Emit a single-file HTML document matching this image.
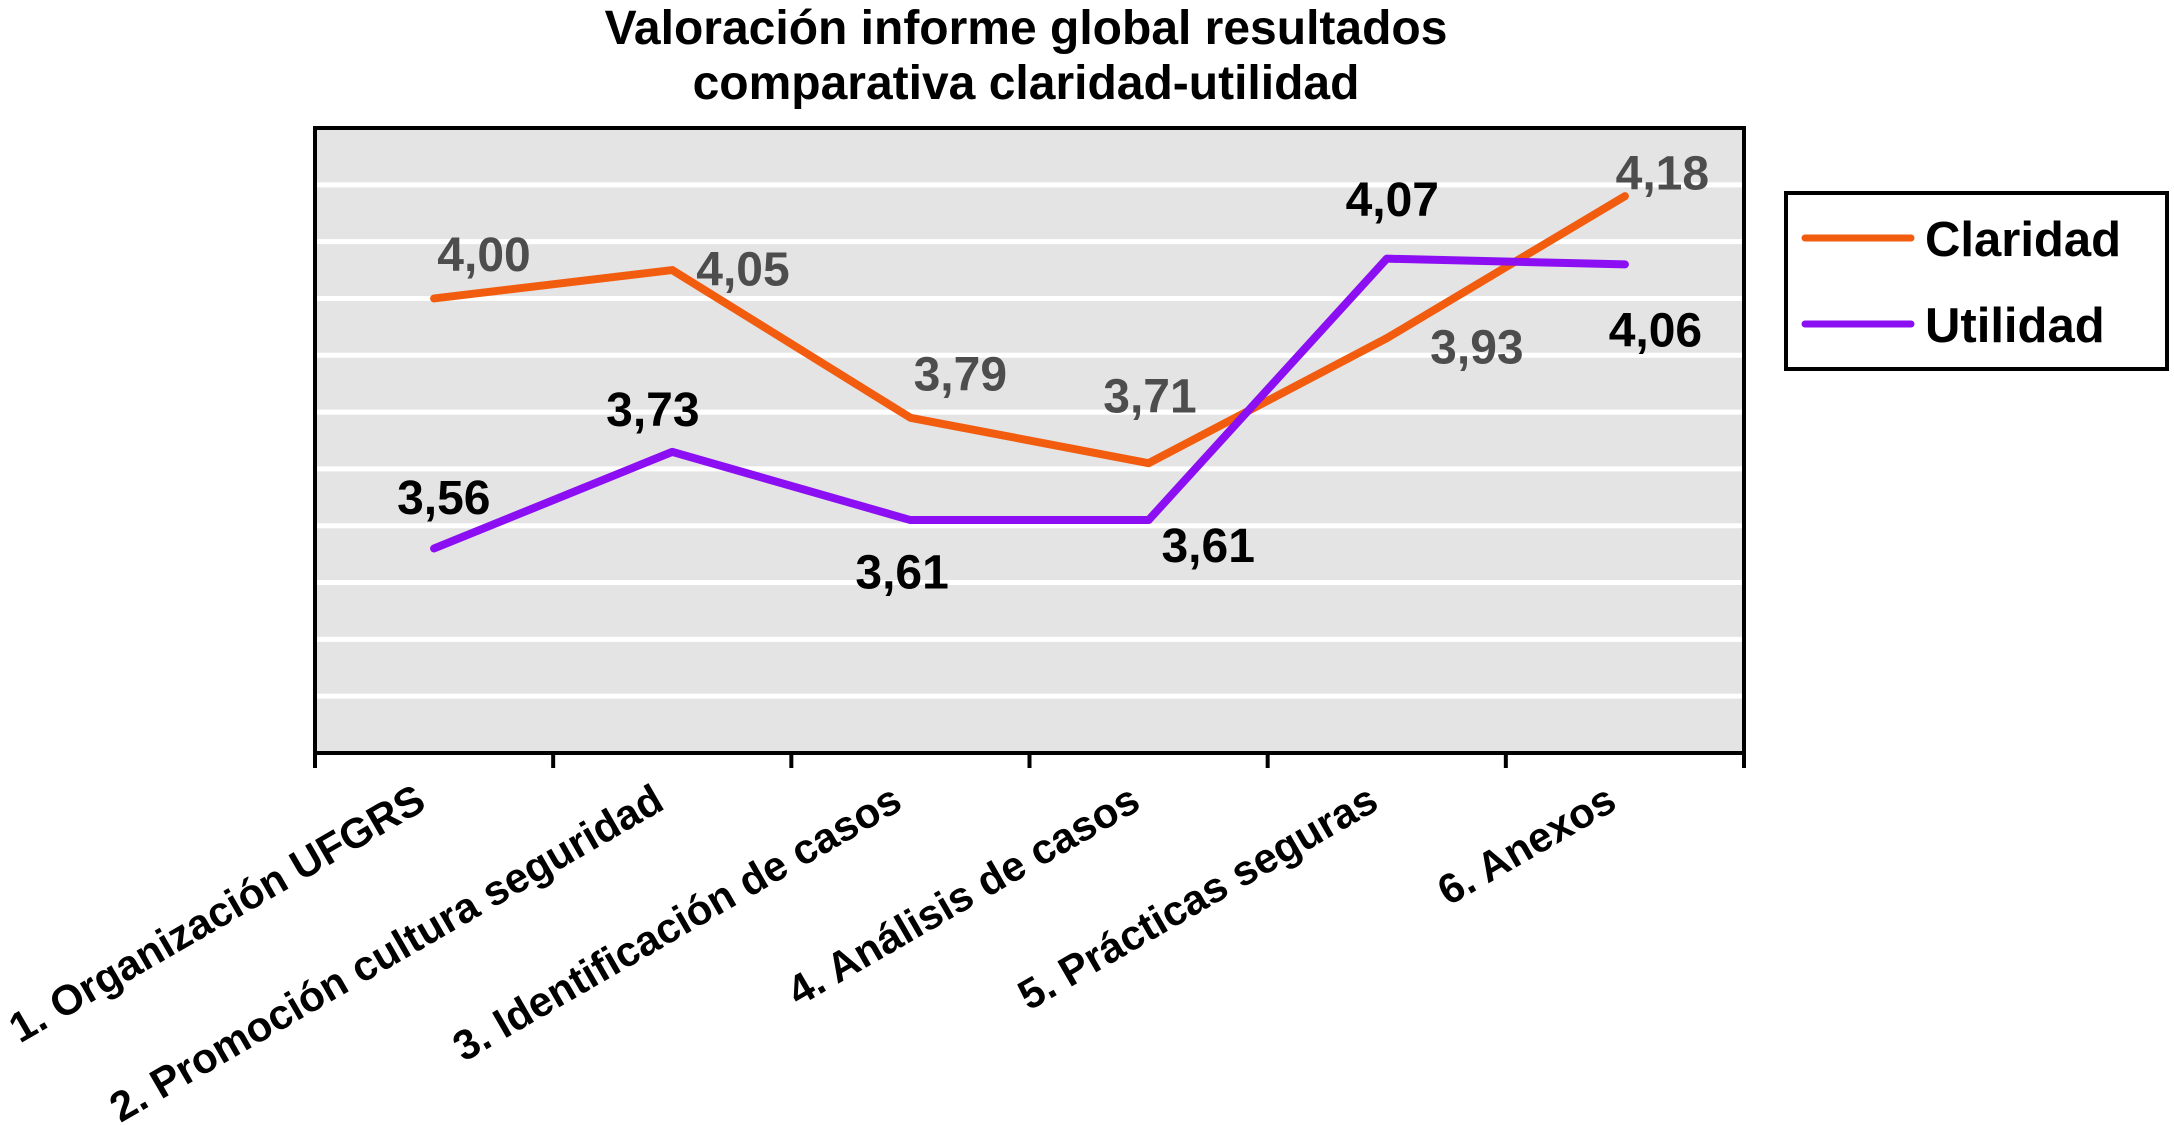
<!DOCTYPE html>
<html><head><meta charset="utf-8"><style>
html,body{margin:0;padding:0;background:#fff;width:2174px;height:1125px;overflow:hidden}
svg text{font-family:"Liberation Sans",Arial,sans-serif;font-weight:bold}
</style></head><body>
<svg id="chart" width="2174" height="1125" viewBox="0 0 2174 1125" xmlns="http://www.w3.org/2000/svg">
<text x="1026" y="44" font-size="48" text-anchor="middle">Valoración informe global resultados</text>
<text x="1026" y="99" font-size="48" text-anchor="middle">comparativa claridad-utilidad</text>
<rect x="315" y="128" width="1429" height="625" fill="#e4e4e4"/>
<g id="grid"></g>
<g id="series"></g>
<rect x="315" y="128" width="1429" height="625" fill="none" stroke="#000" stroke-width="4"/>
<g id="xaxis"></g>
<g>
<rect x="1786" y="193" width="381" height="176" fill="#fff" stroke="#000" stroke-width="4"/>
<line x1="1805" y1="238" x2="1911" y2="238" stroke="#f25c0f" stroke-width="7" stroke-linecap="round"/>
<text x="1925" y="256" font-size="49">Claridad</text>
<line x1="1805" y1="324" x2="1911" y2="324" stroke="#8b0ff2" stroke-width="7" stroke-linecap="round"/>
<text x="1925" y="342" font-size="49">Utilidad</text>
</g>
</svg>
<script>
const categories = ["1. Organización UFGRS","2. Promoción cultura seguridad","3. Identificación de casos","4. Análisis de casos","5. Prácticas seguras","6. Anexos"];
const claridad = [4.00,4.05,3.79,3.71,3.93,4.18];
const utilidad = [3.56,3.73,3.61,3.61,4.07,4.06];
const claridadLabels = ["4,00","4,05","3,79","3,71","3,93","4,18"];
const utilidadLabels = ["3,56","3,73","3,61","3,61","4,07","4,06"];
const yMin = 3.2, yMax = 4.3, yStep = 0.1;

const NS="http://www.w3.org/2000/svg";
const L=315,R=1744,T=128,B=753;
const x=i=>L+(R-L)/categories.length*(i+0.5);
const y=v=>B-(v-yMin)/(yMax-yMin)*(B-T);
function mk(tag,attrs,parent){const e=document.createElementNS(NS,tag);for(const k in attrs)e.setAttribute(k,attrs[k]);parent.appendChild(e);return e;}
const grid=document.getElementById('grid'),series=document.getElementById('series'),xa=document.getElementById('xaxis');
const nSteps=Math.round((yMax-yMin)/yStep);
for(let k=1;k<nSteps;k++){
  const gy=y(yMin+k*yStep);
  const g=mk('line',{x1:L,x2:R,y1:gy,y2:gy,stroke:'#fff','stroke-width':5},grid);
  
  
}
for(let i=0;i<=categories.length;i++){
  const tx=L+(R-L)/categories.length*i;
  const t=mk('line',{x1:tx,x2:tx,y1:B,y2:B+15,stroke:'#000','stroke-width':4},xa);
  
  
}
categories.forEach((c,i)=>{
  const ax=x(i)-6, ay=808;
  const t=mk('text',{x:ax,y:ay,'font-size':42,'text-anchor':'end',transform:`rotate(-30 ${ax} ${ay})`},xa);
  t.textContent=c;
  
  
});
const s=1.3865;
const offC=[[36,-32],[51,-1],[36,-32],[1,-49],[65,6],[27,-17]];
const offU=[[7,-37],[-14,-31],[-6,37],[43,18],[4,-43],[22,47]];
function drawSeries(vals,labels,color,textColor,off,name){
  const p=mk('polyline',{points:vals.map((v,i)=>x(i)+','+y(v)).join(' '),fill:'none',stroke:color,'stroke-width':8,'stroke-linejoin':'round','stroke-linecap':'round'},series);
  
  
  vals.forEach((v,i)=>{
    const t=mk('text',{x:x(i)+off[i][0]*s,y:y(v)+off[i][1]*s+17,'font-size':48,'text-anchor':'middle',fill:textColor},series);
    t.textContent=labels[i];
    
    
  });
}
drawSeries(claridad,claridadLabels,'#f25c0f','#4d4d4d',offC,'claridad');
drawSeries(utilidad,utilidadLabels,'#8b0ff2','#000',offU,'utilidad');
</script>
</body></html>
